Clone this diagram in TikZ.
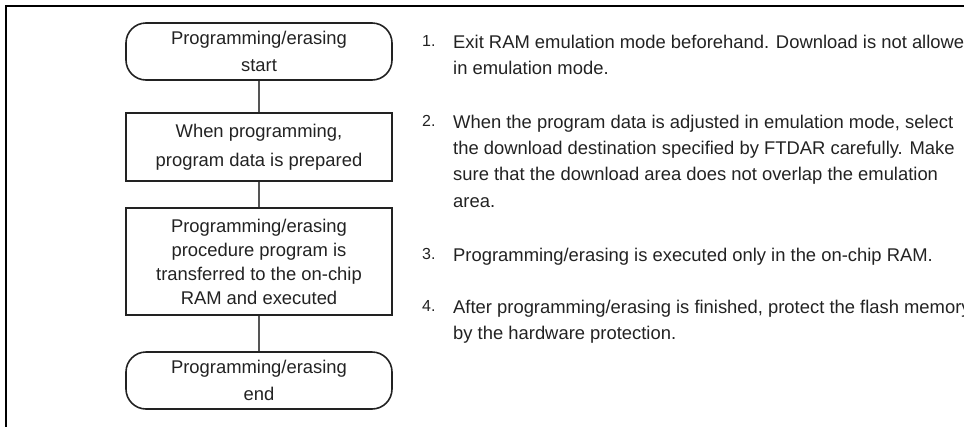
\documentclass[tikz,border=0pt]{standalone}
\usepackage{fontspec}
\setmainfont{Liberation Sans}
\definecolor{ink}{HTML}{222222}
\definecolor{wire}{HTML}{555555}
\newcommand{\bfnt}{\fontsize{18.4}{26}\selectfont}
\newcommand{\nfnt}{\fontsize{16}{20}\selectfont}
\begin{document}
\begin{tikzpicture}[x=1pt,y=-1pt,
  termbox/.style={draw=ink, line width=1.6pt, rounded corners=20pt, minimum width=266pt, inner sep=0pt, align=center, font=\bfnt, text=ink},
  procbox/.style={draw=ink, line width=1.6pt, minimum width=266pt, inner sep=0pt, align=center, font=\bfnt, text=ink},
  noteline/.style={anchor=base west, inner sep=0pt, font=\bfnt, text=ink},
  notenum/.style={anchor=base west, inner sep=0pt, font=\nfnt, text=ink},
  wireline/.style={draw=wire, line width=1.2pt}]
\useasboundingbox (0,0) rectangle (964,426);
\clip (0,0) rectangle (964,426);
\draw[line width=2.6pt, black] (6,440) -- (6,6) -- (980,6);

\node[termbox, minimum height=57pt] (start) at (259,51.5) {Programming/erasing\\[1pt]start};
\node[procbox, minimum height=68pt] (prep) at (259,147) {When programming,\\[3pt]program data is prepared};
\node[procbox, minimum height=107pt] (exec) at (259,261.5) {Programming/erasing\\[-2pt]procedure program is\\[-2pt]transferred to the on-chip\\[-2pt]RAM and executed};
\node[termbox, minimum height=57pt] (stop) at (259,380.5) {Programming/erasing\\[1pt]end};

\draw[wireline] (start) -- (prep);
\draw[wireline] (prep) -- (exec);
\draw[wireline] (exec) -- (stop);

\node[notenum] (k1) at (422,46) {1.};
\node[noteline] (t1a) at (453,48) {Exit RAM emulation mode beforehand. Download is not allowed};
\node[noteline] (t1b) at (453,74) {in emulation mode.};

\node[notenum] (k2) at (422,126) {2.};
\node[noteline] (t2a) at (453,128) {When the program data is adjusted in emulation mode, select};
\node[noteline] (t2b) at (453,154) {the download destination specified by FTDAR carefully. Make};
\node[noteline] (t2c) at (453,180) {sure that the download area does not overlap the emulation};
\node[noteline] (t2d) at (453,207) {area.};

\node[notenum] (k3) at (422,259) {3.};
\node[noteline] (t3a) at (453,261) {Programming/erasing is executed only in the on-chip RAM.};

\node[notenum] (k4) at (422,311) {4.};
\node[noteline] (t4a) at (453,313) {After programming/erasing is finished, protect the flash memory};
\node[noteline] (t4b) at (453,339) {by the hardware protection.};
\end{tikzpicture}
\end{document}
